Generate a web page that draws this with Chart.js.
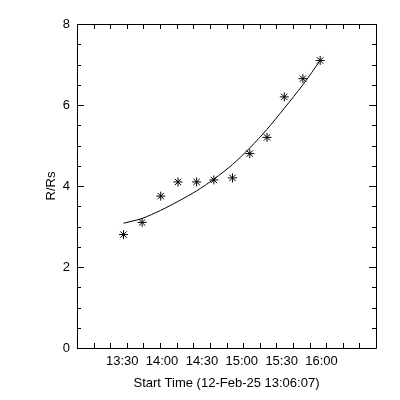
<!DOCTYPE html>
<html>
<head>
<meta charset="utf-8">
<script src="https://cdn.jsdelivr.net/npm/chart.js@4.4.1/dist/chart.umd.min.js"></script>
<style>
  html, body { margin: 0; padding: 0; background: #fff; }
  #wrap { width: 400px; height: 400px; }
</style>
</head>
<body>
<div id="wrap"><canvas id="height"></canvas></div>
<script>
const times = ['13:31','13:45','13:59','14:12','14:26','14:39','14:53','15:06','15:19','15:32','15:46','15:59'];
const heights = [2.8, 3.1, 3.75, 4.1, 4.1, 4.15, 4.2, 4.8, 5.2, 6.2, 6.65, 7.1];
// fitted curve, read at the same times
const fitHeights = [3.08, 3.2, 3.4, 3.62, 3.88, 4.17, 4.53, 4.94, 5.4, 5.92, 6.5, 7.1];

const timeLabels = ['13:30','14:00','14:30','15:00','15:30','16:00'];
const timeRange = ['12:56','16:41'];
const xMinorTicks = [0,1,2,3,4,5,6,7,8,9,10,11,12,13,14,15,16,17,18];

const toHours = s => { const p = s.split(':'); return +p[0] + p[1] / 60; };
const fmt = h => { const m = Math.round(h * 60); return Math.floor(m / 60) + ':' + String(m % 60).padStart(2, '0'); };

const font = { family: 'Liberation Sans', size: 13 };

// IDL style box with inward tick marks
const boxTicks = {
    id: 'boxTicks',
    afterDraw(chart) {
        const { ctx, chartArea: a, scales } = chart;
        ctx.save();
        ctx.strokeStyle = '#000';
        ctx.lineWidth = 1;
        ctx.beginPath();
        ctx.rect(Math.round(a.left) + 0.5, Math.round(a.top) + 0.5, Math.round(a.width), Math.round(a.height));
        scales.y.ticks.forEach(t => {
            const y = Math.round(scales.y.getPixelForValue(t.value)) + 0.5;
            const len = t.value % 2 === 0 ? 7 : 4;
            ctx.moveTo(a.left, y); ctx.lineTo(a.left + len, y);
            ctx.moveTo(a.right, y); ctx.lineTo(a.right - len, y);
        });
        xMinorTicks.forEach(v => {
            const x = Math.round(scales.xt.getPixelForValue(v)) + 0.5;
            ctx.moveTo(x, a.bottom); ctx.lineTo(x, a.bottom - 5);
            ctx.moveTo(x, a.top); ctx.lineTo(x, a.top + 5);
        });
        ctx.stroke();
        ctx.restore();
    }
};

const ctx = document.getElementById('height').getContext('2d');

const chart = new Chart(ctx, {
    type: 'scatter',
    data: {
        datasets: [{
            label: 'R/Rs',
            data: times.map((t, i) => ({ x: toHours(t), y: heights[i] })),
            pointStyle: 'star',
            pointRadius: 4.5,
            borderColor: '#000',
            backgroundColor: '#000',
            borderWidth: 1,
            showLine: false
        }, {
            label: 'fit',
            data: times.map((t, i) => ({ x: toHours(t), y: fitHeights[i] })),
            showLine: true,
            pointRadius: 0,
            borderColor: '#000',
            borderWidth: 1,
            tension: 0.3
        }]
    },
    options: {
        responsive: true,
        maintainAspectRatio: false,
        animation: false,
        layout: { padding: { top: 24, right: 24, left: 0, bottom: 0 } },
        plugins: {
            legend: { display: false },
            tooltip: { enabled: false }
        },
        scales: {
            x: {
                type: 'linear',
                position: 'bottom',
                min: toHours(timeRange[0]),
                max: toHours(timeRange[1]),
                afterBuildTicks: s => { s.ticks = timeLabels.map(l => ({ value: toHours(l) })); },
                afterFit: s => { s.height = 52; },
                grid: { display: false, drawTicks: false },
                border: { display: false },
                ticks: {
                    autoSkip: false, maxRotation: 0, padding: 6,
                    color: '#000', font: font,
                    callback: v => fmt(v)
                },
                title: {
                    display: true,
                    text: 'Start Time (12-Feb-25 13:06:07)',
                    color: '#000', font: font,
                    padding: { top: 0, bottom: 9 }
                }
            },
            xt: {
                type: 'linear',
                position: 'bottom',
                display: false,
                min: xMinorTicks[0],
                max: xMinorTicks[xMinorTicks.length - 1]
            },
            y: {
                min: 0,
                max: 8,
                afterFit: s => { s.width = 77; },
                grid: { display: false, drawTicks: false },
                border: { display: false },
                ticks: {
                    stepSize: 0.5, padding: 7,
                    color: '#000', font: font,
                    callback: v => (v % 2 === 0 ? v : '')
                },
                title: {
                    display: true,
                    text: 'R/Rs',
                    color: '#000', font: font,
                    padding: { top: 44, bottom: 0 }
                }
            }
        }
    },
    plugins: [boxTicks]
});
</script>
</body>
</html>
